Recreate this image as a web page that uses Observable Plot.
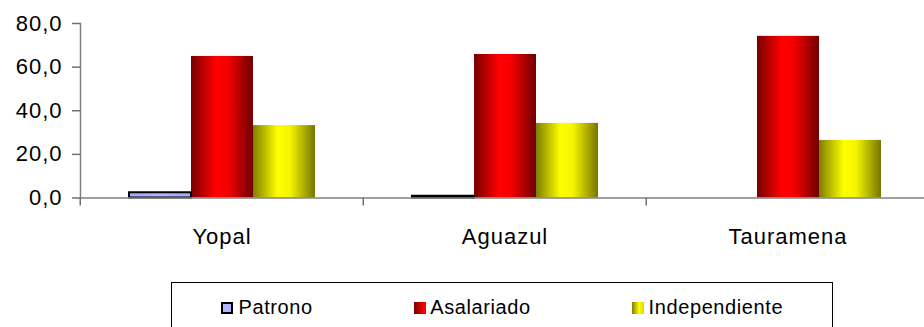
<!DOCTYPE html>
<html>
<head>
<meta charset="utf-8">
<script src="https://cdn.jsdelivr.net/npm/d3@7"></script>
<script src="https://cdn.jsdelivr.net/npm/@observablehq/plot@0.6"></script>
<style>
  html, body { margin: 0; padding: 0; background: #fff; }
  #wrap { position: relative; width: 924px; height: 327px; overflow: hidden; font-family: "Liberation Sans", Arial, sans-serif; }
  #legend { position: absolute; left: 171px; top: 282px; width: 662px; height: 60px; border: 1.5px solid #000; box-sizing: border-box; }
  .sw { position: absolute; width: 12px; height: 12.6px; top: 301.7px; box-sizing: border-box; }
  .lt { position: absolute; top: 297.4px; font-size: 20px; line-height: 20px; letter-spacing: 0.6px; color: #000; white-space: nowrap; }
  #chart svg text { font-size: 22px !important; letter-spacing: 1px; font-family: "Liberation Sans", Arial, sans-serif; }
</style>
</head>
<body>
<div id="wrap">
  <div id="chart"></div>
  <div id="legend"></div>
  <div class="sw" style="left:220.7px;border:2px solid #000;background:#b3b3ff;"></div>
  <div class="lt" style="left:238.5px;">Patrono</div>
  <div class="sw" style="left:414px;background:linear-gradient(to right,#7a0000,#ff0000 85%,#ee0000);"></div>
  <div class="lt" style="left:430.2px;">Asalariado</div>
  <div class="sw" style="left:632.3px;background:linear-gradient(to right,#808000,#ffff00 60%,#d8d800);"></div>
  <div class="lt" style="left:648.6px;">Independiente</div>
</div>
<script>
const categories = ["Yopal", "Aguazul", "Tauramena"];
const series = ["Patrono", "Asalariado", "Independiente"];
const patrono = [2.4, 0.8, 0];
const asalariado = [64.9, 65.8, 74.1];
const independiente = [33.2, 34.2, 26.4];
const yTicks = [0, 20, 40, 60, 80];

const values = {Patrono: patrono, Asalariado: asalariado, Independiente: independiente};
const data = categories.flatMap((c, i) => series.map(s => ({category: c, series: s, value: values[s][i]})));

const svg = Plot.plot({
  width: 924,
  height: 270,
  marginLeft: 79,
  marginRight: -5.5,
  marginTop: 23,
  marginBottom: 72.5,
  style: {fontFamily: "'Liberation Sans', Arial, sans-serif", fontSize: "22px", color: "#000", background: "transparent"},
  fx: {domain: categories, range: [79, 929.5], padding: 0},
  x: {domain: series, paddingInner: 0, paddingOuter: 0.75, axis: null},
  y: {domain: [0, 80]},
  color: {domain: series, range: ["url(#gPat)", "url(#gRed)", "url(#gYel)"]},
  marks: [
    Plot.barY(data, {filter: d => d.series !== "Patrono", fx: "category", x: "series", y: "value", fill: "series"}),
    Plot.barY(data, {filter: d => d.series === "Patrono" && d.value > 0, fx: "category", x: "series", y: "value", fill: "series", stroke: "#000", strokeWidth: 2}),
    Plot.ruleY([0], {stroke: "#808080", strokeWidth: 1.5}),
    Plot.frame({anchor: "left", facetAnchor: "left", stroke: "#808080", strokeWidth: 1.5}),
    Plot.axisY({ticks: yTicks, tickFormat: d => d.toFixed(1).replace(".", ","), tickSize: 8, tickPadding: 10, stroke: "#707070", strokeWidth: 1.5, fill: "#000", fontSize: 22, label: null}),
    Plot.axisFx({anchor: "bottom", tickSize: 8, tickFormat: () => "", dx: -141.75, stroke: "#707070", strokeWidth: 1.5, label: null}),
    Plot.axisFx({anchor: "bottom", tickSize: 0, tickPadding: 30, fill: "#000", fontSize: 22, label: null})
  ]
});

const defs = d3.select(svg).insert("defs", ":first-child");
function grad(id, stops) {
  const g = defs.append("linearGradient").attr("id", id).attr("x1", 0).attr("x2", 1).attr("y1", 0).attr("y2", 0);
  stops.forEach(([o, c]) => g.append("stop").attr("offset", o).attr("stop-color", c));
}
grad("gRed", [["0%", "#780000"], ["40%", "#ff0000"], ["60%", "#f40000"], ["100%", "#6e0000"]]);
grad("gYel", [["0%", "#7e7e00"], ["40%", "#ffff00"], ["60%", "#f4f400"], ["100%", "#767600"]]);
grad("gPat", [["0%", "#a8a8f0"], ["50%", "#b4b4ff"], ["100%", "#a8a8f0"]]);

document.getElementById("chart").appendChild(svg);
</script>
</body>
</html>
